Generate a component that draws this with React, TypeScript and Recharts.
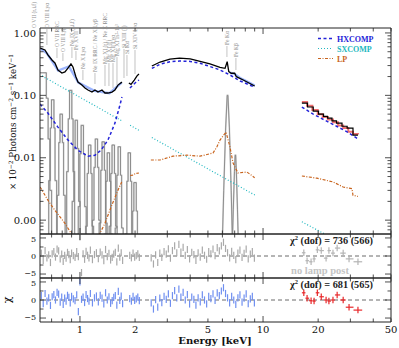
import React from 'react';
import { ComposedChart, Line, XAxis, YAxis, Scatter, ErrorBar, ReferenceLine } from 'recharts';

// ---------------- data ----------------
const X_DOMAIN: [number, number] = [0.605, 50];
const Y_DOMAIN: [number, number] = [0.0006, 1.2];
const R_DOMAIN: [number, number] = [-6.1, 6.1];

const energyTicks = [0.7, 0.8, 0.9, 1, 2, 3, 4, 5, 6, 7, 8, 9, 10, 20, 30, 40, 50];
const energyLabelled = [1, 2, 5, 10, 20, 50];
const energyTickLabels = ['1', '2', '5', '10', '20', '50'];
const energyMajor = [1, 10];

const fluxTicks = [0.0007, 0.0008, 0.0009, 0.001, 0.002, 0.003, 0.004, 0.005, 0.006, 0.007, 0.008, 0.009,
  0.01, 0.02, 0.03, 0.04, 0.05, 0.06, 0.07, 0.08, 0.09, 0.1, 0.2, 0.3, 0.4, 0.5, 0.6, 0.7, 0.8, 0.9, 1];
const fluxMajor = [0.001, 0.01, 0.1, 1];
const fluxMajorLabels = ['0.00', '0.01', '0.10', '1.00'];

const chiTicks = [-5, -2.5, 0, 2.5, 5];
const chiMajor = [-5, 0, 5];
const chiMajorLabels = ['\u22125', '0', '5'];

// data (black) in the upper panel
const dataSeg1 = [[0.605, 0.574], [0.644, 0.533], [0.668, 0.444], [0.703, 0.369], [0.73, 0.33], [0.758, 0.255], [0.797, 0.228],
  [0.828, 0.237], [0.86, 0.274], [0.893, 0.318], [0.916, 0.285], [0.951, 0.197], [0.975, 0.163], [1.025, 0.146], [1.065, 0.131],
  [1.106, 0.122], [1.163, 0.113], [1.208, 0.122], [1.254, 0.113], [1.319, 0.122], [1.37, 0.109], [1.422, 0.109], [1.496, 0.113],
  [1.553, 0.122], [1.613, 0.146], [1.696, 0.163]];
const dataSeg2 = [[1.85, 0.158], [1.9, 0.15], [1.98, 0.176], [2.05, 0.205], [2.1, 0.22]];
const dataSeg3 = [[2.47, 0.295], [2.74, 0.342], [3.1, 0.38], [3.5, 0.395], [4.0, 0.385], [4.53, 0.35], [5.13, 0.318], [5.82, 0.281],
  [6.2, 0.271], [6.37, 0.346], [6.5, 0.24], [6.7, 0.226], [7.0, 0.226], [7.15, 0.199], [7.8, 0.176], [9.0, 0.141]];
const dataSeg4 = [[16.3, 0.0752], [17.5, 0.065], [18.8, 0.056], [20.1, 0.05], [21.4, 0.046], [22.5, 0.0432], [23.8, 0.039],
  [25.2, 0.0359], [27.0, 0.032], [28.8, 0.0299], [31.0, 0.0231], [33.0, 0.0231]];
const redSeg4 = [[16.3, 0.078], [17.4, 0.068], [18.6, 0.058], [19.9, 0.05], [21.2, 0.045], [22.6, 0.041], [24.1, 0.037],
  [25.7, 0.033], [27.4, 0.03], [29.2, 0.026], [31.0, 0.024], [33.0, 0.0235]];
// light-blue data points under the model (upper panel)
const blueDataSeg1 = [[0.61, 0.56], [0.66, 0.47], [0.76, 0.25], [0.87, 0.29], [0.98, 0.16], [1.2, 0.118], [1.45, 0.108], [1.69, 0.16]];
const blueDataSeg3 = [[6.6, 0.232], [7.0, 0.22], [7.5, 0.19], [8.2, 0.166], [9.0, 0.143]];

// HXCOMP
const hxSeg1 = [[0.605, 0.0725], [0.668, 0.052], [0.758, 0.031], [0.86, 0.0192], [0.975, 0.0132], [1.106, 0.0106], [1.208, 0.011],
  [1.303, 0.0132], [1.422, 0.0192], [1.553, 0.0359], [1.654, 0.0699], [1.696, 0.094]];
const hxSeg2 = [[1.875, 0.131], [2.0, 0.158], [2.1, 0.176]];
const hxSeg3 = [[2.47, 0.27], [2.74, 0.315], [3.1, 0.345], [3.5, 0.355], [4.0, 0.35], [4.53, 0.326], [5.13, 0.29], [5.82, 0.255],
  [6.6, 0.212], [7.5, 0.17], [9.0, 0.135]];
const hxSeg4 = [[16.3, 0.065], [18.8, 0.05], [22.5, 0.038], [25.2, 0.032], [28.8, 0.026], [33.0, 0.02]];

// SXCOMP
const sxSeg1 = [[0.62, 0.205], [1.7, 0.0387]];
const sxSeg2 = [[1.88, 0.0331], [2.1, 0.0275]];
const sxSeg3 = [[2.47, 0.0211], [9.05, 0.00251]];
const sxSeg4 = [[16.3, 0.00094], [21.5, 0.00061]];

// LP
const lpSeg1 = [[0.605, 0.0034], [0.612, 0.00325], [0.668, 0.00209], [0.73, 0.00144], [0.828, 0.00089], [0.893, 0.00062],
  [0.951, 0.00045], [1.05, 0.0003], [1.15, 0.0003], [1.21, 0.00045], [1.286, 0.00062], [1.37, 0.00089], [1.477, 0.00161],
  [1.613, 0.00302], [1.69, 0.0041]];
const lpSeg2 = [[1.88, 0.0052], [1.97, 0.0053], [2.0, 0.0056], [2.1, 0.0057]];
const lpSeg3 = [[2.44, 0.0092], [2.74, 0.0092], [3.22, 0.0106], [3.84, 0.011], [4.53, 0.0106], [5.33, 0.0119], [5.6, 0.015],
  [5.82, 0.0192], [6.28, 0.0258], [6.6, 0.0148], [6.86, 0.0082], [7.29, 0.0057], [8.17, 0.0059], [9.0, 0.0048]];
const lpSeg4 = [[16.3, 0.0051], [19.7, 0.0047], [24.1, 0.0041], [27.4, 0.0034], [30.6, 0.0032], [31.0, 0.0025], [33.0, 0.0024]];

// emission line components (grey histograms)
const lineA = [[0.6, 0.23], [0.655, 0.09], [0.67, 0.02], [0.685, 0.003], [0.7, 0.0002], [0.71, 0.0002]];
const lineB = [[0.66, 0.0002], [0.675, 0.0043], [0.689, 0.03], [0.699, 0.085], [0.721, 0.03], [0.731, 0.0043], [0.746, 0.0002], [0.76, 0.0002]];
const lineC = [[0.735, 0.0002], [0.751, 0.0025], [0.766, 0.0175], [0.778, 0.05], [0.802, 0.0175], [0.814, 0.0025], [0.83, 0.0002], [0.845, 0.0002]];
const lineD = [[0.828, 0.0002], [0.846, 0.006], [0.863, 0.042], [0.877, 0.12], [0.903, 0.042], [0.917, 0.006], [0.935, 0.0002], [0.952, 0.0002]];
const lineE = [[0.888, 0.0002], [0.907, 0.002], [0.926, 0.014], [0.941, 0.04], [0.969, 0.014], [0.984, 0.002], [1.003, 0.0002], [1.022, 0.0002]];
const lineF = [[0.958, 0.0002], [0.979, 0.00165], [0.999, 0.0116], [1.015, 0.033], [1.045, 0.0116], [1.061, 0.00165], [1.082, 0.0002], [1.102, 0.0002]];
const lineG = [[1.051, 0.0002], [1.074, 0.0008], [1.096, 0.0056], [1.113, 0.016], [1.147, 0.0056], [1.164, 0.0008], [1.187, 0.0002], [1.209, 0.0002]];
const lineH = [[1.144, 0.0002], [1.169, 0.001], [1.193, 0.007], [1.212, 0.02], [1.248, 0.007], [1.267, 0.001], [1.292, 0.0002], [1.316, 0.0002]];
const lineI = [[1.246, 0.0002], [1.273, 0.0009], [1.3, 0.0063], [1.32, 0.018], [1.36, 0.0063], [1.38, 0.0009], [1.407, 0.0002], [1.434, 0.0002]];
const lineJ = [[1.33, 0.0002], [1.359, 0.0006], [1.387, 0.0042], [1.409, 0.012], [1.451, 0.0042], [1.473, 0.0006], [1.502, 0.0002], [1.53, 0.0002]];
const lineK = [[1.414, 0.0002], [1.444, 0.0008], [1.474, 0.0056], [1.497, 0.016], [1.543, 0.0056], [1.566, 0.0008], [1.596, 0.0002], [1.626, 0.0002]];
const lineL = [[1.525, 0.0002], [1.558, 0.00075], [1.591, 0.00525], [1.615, 0.015], [1.665, 0.00525], [1.689, 0.00075], [1.722, 0.0002], [1.755, 0.0002]];
const lineM = [[1.73, 0.0002], [1.767, 0.0006], [1.804, 0.0042], [1.832, 0.012], [1.888, 0.0042], [1.916, 0.0006], [1.953, 0.0002], [1.99, 0.0002]];
const lineN = [[1.86, 0.0002], [1.9, 0.0002], [1.94, 0.0014], [1.97, 0.004], [2.03, 0.0014], [2.06, 0.0002], [2.1, 0.0002], [2.14, 0.0002]];
const lineFeKa = [[5.95, 0.0002], [6.1, 0.003], [6.25, 0.03], [6.37, 0.1], [6.43, 0.1], [6.55, 0.03], [6.7, 0.003], [6.85, 0.0002]];
const lineFeKb = [[6.75, 0.0002], [6.88, 0.0015], [6.98, 0.006], [7.04, 0.011], [7.09, 0.011], [7.15, 0.006], [7.25, 0.0015], [7.38, 0.0002]];

// residuals
const resE1 = [0.615, 0.63, 0.645, 0.66, 0.675, 0.69, 0.705, 0.72, 0.735, 0.75, 0.765, 0.78, 0.795, 0.81, 0.825, 0.84, 0.855, 0.87,
  0.885, 0.9, 0.92, 0.94, 0.96, 0.98, 1.0, 1.02, 1.04, 1.06, 1.08, 1.1, 1.12, 1.14, 1.17, 1.2, 1.23, 1.26, 1.29, 1.32, 1.35, 1.38,
  1.41, 1.44, 1.47, 1.5, 1.53, 1.56, 1.59, 1.62, 1.65, 1.68, 1.71];
const resGray1 = [0.8, -1.2, 1.5, -0.5, 0.3, -1.8, 0.6, 1.2, -0.3, 1.9, 1.4, -0.8, 0.5, -1.5, 0.2, -0.6, 1.0, 0.4, -1.0, 0.8, 0.1,
  -0.4, 1.2, -0.2, 5.3, -4.6, 0.6, -0.9, 1.3, 0.2, -0.5, 1.6, -1.0, 0.4, 0.9, -0.7, 1.1, 0.3, -1.3, 1.8, -0.2, 0.7, -1.1, -0.4, 0.5,
  1.0, -1.6, 2.2, -0.3, 0.9, -1.2];
const resBlue1 = [1.2, -1.0, 1.8, -0.3, 0.6, -1.5, 0.9, 1.5, 0.0, 2.1, 1.6, -0.6, 0.8, -1.2, 0.5, -0.3, 1.3, 0.7, -0.8, 1.0, 0.3,
  -0.2, 1.4, -3.2, 5.0, 0.2, 0.8, -0.7, 1.5, 0.4, -0.3, 1.8, -0.8, 0.6, 1.1, -0.5, 1.3, 0.5, -1.1, 2.0, 0.0, 0.9, -0.9, -0.2, 0.7,
  1.2, -1.4, 2.4, -0.1, 1.1, -1.0];
const resE2 = [1.87, 1.91, 1.95, 1.99, 2.03, 2.07, 2.11];
const resGray2 = [0.2, -0.5, 0.8, -0.3, 0.1, 0.6, -0.4];
const resBlue2 = [0.4, -0.3, 1.0, -0.1, 0.3, 0.8, -0.2];
const resE3 = [2.45, 2.52, 2.59, 2.66, 2.73, 2.8, 2.88, 2.96, 3.04, 3.12, 3.2, 3.29, 3.38, 3.47, 3.56, 3.66, 3.76, 3.86, 3.97, 4.08,
  4.19, 4.3, 4.42, 4.54, 4.66, 4.79, 4.92, 5.05, 5.19, 5.33, 5.47, 5.62, 5.77, 5.92, 6.08, 6.24, 6.4, 6.57, 6.74, 6.92, 7.1, 7.29,
  7.48, 7.68, 7.88, 8.09, 8.3, 8.52, 8.74, 8.97];
const resGray3 = [-0.5, -2.2, 0.3, -1.8, 0.8, -0.4, 1.2, 0.5, 2.0, -0.6, 1.5, 2.8, 0.9, 3.2, 1.1, 2.4, 0.2, 1.8, -0.8, 1.0, 0.4, -1.2,
  0.9, -0.3, 1.6, 0.2, -0.9, 1.2, 0.6, 1.9, 0.1, 2.3, 1.4, 2.8, 3.8, 2.1, 0.9, -0.5, 1.3, 0.2, -1.0, 0.8, 1.6, -0.4, 0.7, 1.9, -0.8,
  0.5, 1.2, -0.6];
const resBlue3 = [-0.8, -2.5, 0.1, -2.0, 0.5, -0.7, 1.0, 0.2, 1.7, -0.9, 1.2, 2.6, 0.6, 3.0, 0.8, 2.1, 0.0, 1.5, -1.1, 0.8, 0.2, -1.4,
  0.6, -0.5, 1.4, 0.0, -1.1, 1.0, 0.4, 1.7, -0.1, 2.0, 1.2, 2.5, 3.4, 1.8, 0.6, -0.8, 1.0, 0.0, -1.2, 0.6, 1.4, -0.6, 0.5, 1.7, -1.0,
  0.3, 1.0, -0.8];
const resErr = 1.0;
const hiE = [16.7, 17.4, 18.3, 19.0, 19.8, 20.8, 22.1, 22.9, 24.1, 25.4, 27.4, 29.5, 33.0];
const hiLo = [16.3, 17.05, 17.85, 18.65, 19.4, 20.3, 21.5, 22.5, 23.5, 24.7, 26.4, 28.3, 31.2];
const hiHi = [17.05, 17.85, 18.65, 19.4, 20.3, 21.5, 22.5, 23.5, 24.7, 26.4, 28.3, 31.2, 34.8];
const hiGray = [0.9, -1.3, -1.6, -0.8, 1.7, 1.5, -0.6, 1.5, 0.8, 2.2, 0.8, -0.8, -1.6];
const hiRed = [2.0, 0.5, -0.2, -0.3, 2.0, 0.9, 0.0, -0.3, 0.0, 1.4, 0.0, -2.0, -2.8];
const hiErr = 0.9;

// line identifications
const lineNames = ['O VII (r,i,f)', 'O VIII Ly\u03b1', 'O VII RRC', 'O VIII Ly\u03b2', 'Ne IX (r,i,f)', 'Fe XVII', 'Ne X Ly\u03b1',
  'Ne IX RRC / Ne X Ly\u03b2', 'Mg XI (r) / Ne X RRC', 'Mg XI (f)', 'Mg XII Ly\u03b1', 'Mg XI 1s\u00b2-1s\u00b3', 'Si XIII (f)', 'Si K\u03b1',
  'Si XIV Ly\u03b1', 'Fe K\u03b1', 'Fe K\u03b2'];
const lineEnergies = [0.561, 0.66, 0.749, 0.807, 0.904, 0.951, 1.038, 1.208, 1.37, 1.44, 1.515, 1.593, 1.74, 1.806, 1.998, 6.35, 7.11];

// ---------------- layout ----------------
const PL = 40, PR = 391;
const FONT = 'DejaVu Serif';
const lineLabelLayout = [[28, 28], [28, 45], [47, 58], [52, 61], [46, 58], [50, 60], [69, 80], [72, 84], [64, 86], [62, 86],
  [62, 88], [56, 85], [48, 78], [54, 76], [49, 74], [45, 57], [57, 70]];

const pts = (a: number[][]) => a.map(([e, v]) => ({ e, v }));
const resTable = (E: number[], R: number[], err: number) => E.map((e, i) => ({ e, r: R[i], ey: err }));
const crossTable = (R: number[]) => hiE.map((e, i) => ({ e, r: R[i], ey: hiErr, ex: [e - hiLo[i], hiHi[i] - e] }));
const ex = (E: number) => PL + (PR - PL) * (Math.log10(E) - Math.log10(X_DOMAIN[0])) / (Math.log10(X_DOMAIN[1]) - Math.log10(X_DOMAIN[0]));

const near = (a: number, b: number) => Math.abs(a - b) <= Math.abs(b) * 1e-6 + 1e-12;
const findIdx = (arr: number[], v: number) => arr.findIndex((a) => near(v, a));

function XTick(props: any) {
  const { x, y, payload, side, showLabel } = props;
  const v = payload.value;
  const len = findIdx(energyMajor, v) >= 0 ? 6 : 3.5;
  const dir = side === 'bottom' ? -1 : 1;
  const li = findIdx(energyLabelled, v);
  return (
    <g>
      <line x1={x} y1={y} x2={x} y2={y + dir * len} stroke="#222" strokeWidth={0.8} />
      {showLabel && li >= 0 && (
        <text x={x} y={y + 11} textAnchor="middle" fontFamily={FONT} fontSize={10} fill="#111">{energyTickLabels[li]}</text>
      )}
    </g>
  );
}

function YTick(props: any) {
  const { x, y, payload, side, kind } = props;
  const v = payload.value;
  const majors = kind === 'flux' ? fluxMajor : chiMajor;
  const labels = kind === 'flux' ? fluxMajorLabels : chiMajorLabels;
  const mi = findIdx(majors, v);
  const len = mi >= 0 ? 6 : 3.5;
  const dir = side === 'left' ? 1 : -1;
  const fs = kind === 'flux' ? 10 : 8;
  // keep the stacked residual labels (−5 above, 5 below) from touching
  const nudge = kind === 'chi' ? (v > 0 ? 1 : v < 0 ? -1 : 0) : 0;
  return (
    <g>
      <line x1={x} y1={y} x2={x + dir * len} y2={y} stroke="#222" strokeWidth={0.8} />
      {side === 'left' && mi >= 0 && (
        <text x={x - 4} y={y + fs * 0.36 + nudge} textAnchor="end" fontFamily={FONT} fontSize={fs} fill="#111">{labels[mi]}</text>
      )}
    </g>
  );
}

// axes are 1px thick so that Recharts draws them; margins compensate
function energyAxes(showLabels: boolean) {
  const common = {
    dataKey: 'e', type: 'number' as const, scale: 'log' as const, domain: X_DOMAIN, allowDataOverflow: true,
    ticks: energyTicks, interval: 0 as const, height: 1, tickSize: 0, tickMargin: 0, tickLine: false,
    axisLine: { stroke: '#222', strokeWidth: 1 },
  };
  return [
    <XAxis key="xb" xAxisId="b" {...common} tick={(p: any) => <XTick {...p} side="bottom" showLabel={showLabels} />} />,
    <XAxis key="xt" xAxisId="t" orientation="top" {...common} tick={(p: any) => <XTick {...p} side="top" showLabel={false} />} />,
  ];
}

function valueAxes(kind: 'flux' | 'chi') {
  const common = {
    type: 'number' as const,
    scale: (kind === 'flux' ? 'log' : 'linear') as any,
    domain: kind === 'flux' ? Y_DOMAIN : R_DOMAIN,
    ticks: kind === 'flux' ? fluxTicks : chiTicks,
    allowDataOverflow: true, interval: 0 as const, width: 1, tickSize: 0, tickMargin: 0, tickLine: false,
    axisLine: { stroke: '#222', strokeWidth: 1 },
  };
  return [
    <YAxis key="yl" yAxisId="l" {...common} tick={(p: any) => <YTick {...p} side="left" kind={kind} />} />,
    <YAxis key="yr" yAxisId="r" orientation="right" {...common} tick={(p: any) => <YTick {...p} side="right" kind={kind} />} />,
  ];
}

const BLUE = '#2323d8';
const CYAN = '#22b8c0';
const ORANGE = '#c8641e';
const GRAY_RES = '#a9a9a9';
const BLUE_RES = '#6f8ff0';
const RED = '#e8282a';

type S = { data: number[][]; color: string; width: number; dash?: string; curve?: any };
const greyLines = [lineA, lineB, lineC, lineD, lineE, lineF, lineG, lineH, lineI, lineJ, lineK, lineL, lineM, lineN];
const series: S[] = [
  ...greyLines.map((d) => ({ data: d, color: '#d2d2d2', width: 1.6, curve: 'stepAfter' })),
  ...greyLines.map((d) => ({ data: d, color: '#7c7c7c', width: 0.8, curve: 'stepAfter' })),
  { data: lineFeKa, color: '#d2d2d2', width: 1.6 },
  { data: lineFeKb, color: '#d2d2d2', width: 1.6 },
  { data: lineFeKa, color: '#7c7c7c', width: 0.8 },
  { data: lineFeKb, color: '#7c7c7c', width: 0.8 },
  { data: sxSeg1, color: CYAN, width: 1.2, dash: '1 2' },
  { data: sxSeg2, color: CYAN, width: 1.2, dash: '1 2' },
  { data: sxSeg3, color: CYAN, width: 1.2, dash: '1 2' },
  { data: sxSeg4, color: CYAN, width: 1.2, dash: '1 2' },
  { data: lpSeg1, color: ORANGE, width: 1.2, dash: '3 1.5 1 1.5' },
  { data: lpSeg2, color: ORANGE, width: 1.2, dash: '3 1.5 1 1.5' },
  { data: lpSeg3, color: ORANGE, width: 1.2, dash: '3 1.5 1 1.5' },
  { data: lpSeg4, color: ORANGE, width: 1.2, dash: '3 1.5 1 1.5' },
  { data: redSeg4, color: '#f07070', width: 2, curve: 'stepAfter' },
  { data: blueDataSeg1, color: '#9db6ff', width: 2.4 },
  { data: blueDataSeg3, color: '#9db6ff', width: 2.4 },
  { data: hxSeg1, color: BLUE, width: 1.5, dash: '3 2.5' },
  { data: hxSeg2, color: BLUE, width: 1.5, dash: '3 2.5' },
  { data: hxSeg3, color: BLUE, width: 1.5, dash: '3 2.5' },
  { data: hxSeg4, color: BLUE, width: 1.5, dash: '3 2.5' },
  { data: dataSeg1, color: '#000', width: 1.3 },
  { data: dataSeg2, color: '#000', width: 1.3 },
  { data: dataSeg3, color: '#000', width: 1.3 },
  { data: dataSeg4, color: '#000', width: 1.2, curve: 'stepAfter' },
];

const NoShape = () => <g />;

// plotTop: page y of the panel's top edge; plotH: panel height; below: room for tick labels
function ResidualPanel(props: { plotTop: number; plotH: number; below: number; showLabels: boolean; lo: any[][]; cross: any[]; color: string; crossColor: string }) {
  const { plotTop, plotH, below, showLabels, lo, cross, color, crossColor } = props;
  const h = plotH + 2 + below;
  return (
    <div style={{ position: 'absolute', left: 0, top: plotTop - 1, width: 399, height: h }}>
      <ComposedChart width={399} height={h} margin={{ top: 0, right: 399 - PR - 1, bottom: below, left: PL - 1 }}>
        {energyAxes(showLabels)}
        {valueAxes('chi')}
        <ReferenceLine xAxisId="b" yAxisId="l" y={0} stroke="#444" strokeWidth={0.8} strokeDasharray="4 3" />
        {lo.map((d, i) => (
          <Scatter key={'s' + i} xAxisId="b" yAxisId="l" data={d} dataKey="r" shape={NoShape} isAnimationActive={false}>
            <ErrorBar dataKey="ey" direction="y" width={0} stroke={color} strokeWidth={1.2} />
          </Scatter>
        ))}
        <Scatter xAxisId="b" yAxisId="l" data={cross} dataKey="r" shape={NoShape} isAnimationActive={false}>
          <ErrorBar dataKey="ey" direction="y" width={0} stroke={crossColor} strokeWidth={1.2} />
          <ErrorBar dataKey="ex" direction="x" width={0} stroke={crossColor} strokeWidth={1.2} />
        </Scatter>
      </ComposedChart>
    </div>
  );
}

export default function App() {
  return (
    <div style={{ position: 'absolute', left: 0, top: 0, width: 399, height: 348, background: '#fff', overflow: 'hidden' }}>
      <div style={{ position: 'absolute', left: 0, top: 0, width: 399, height: 236 }}>
        <ComposedChart width={399} height={236} margin={{ top: 27, right: 399 - PR - 1, bottom: 1, left: PL - 1 }}>
          {energyAxes(false)}
          {valueAxes('flux')}
          {series.map((s, i) => (
            <Line key={'l' + i} xAxisId="b" yAxisId="l" data={pts(s.data)} dataKey="v" type={s.curve || 'linear'}
              stroke={s.color} strokeWidth={s.width} strokeDasharray={s.dash} dot={false} activeDot={false}
              isAnimationActive={false} />
          ))}
        </ComposedChart>
      </div>
      <ResidualPanel plotTop={234} plotH={44} below={0} showLabels={false}
        lo={[resTable(resE1, resGray1, resErr), resTable(resE2, resGray2, resErr), resTable(resE3, resGray3, resErr)]}
        cross={crossTable(hiGray)} color={GRAY_RES} crossColor="#b4b4b4" />
      <ResidualPanel plotTop={278} plotH={44} below={26} showLabels={true}
        lo={[resTable(resE1, resBlue1, resErr), resTable(resE2, resBlue2, resErr), resTable(resE3, resBlue3, resErr)]}
        cross={crossTable(hiRed)} color={BLUE_RES} crossColor={RED} />
      <svg width={399} height={348} style={{ position: 'absolute', left: 0, top: 0, pointerEvents: 'none' }}>
        {lineNames.map((n, i) => {
          const x = ex(lineEnergies[i]);
          const [bot, end] = lineLabelLayout[i];
          return (
            <g key={'id' + i}>
              <text transform={`translate(${x + 2},${bot}) rotate(-90)`} fontFamily="Liberation Serif" fontSize={5.6} fill="#8c8c8c">{n}</text>
              {end > bot && <line x1={x} x2={x} y1={bot + 1} y2={end} stroke="#9a9a9a" strokeWidth={0.6} />}
            </g>
          );
        })}
        <line x1={318} x2={333} y1={38.5} y2={38.5} stroke={BLUE} strokeWidth={1.5} strokeDasharray="3 2.5" />
        <text x={337} y={41.5} fontFamily="Liberation Serif" fontWeight="bold" fontSize={8} fill={BLUE}>HXCOMP</text>
        <line x1={318} x2={333} y1={48.5} y2={48.5} stroke={CYAN} strokeWidth={1.2} strokeDasharray="1 2" />
        <text x={337} y={51.5} fontFamily="Liberation Serif" fontWeight="bold" fontSize={8} fill={CYAN}>SXCOMP</text>
        <line x1={318} x2={333} y1={58.5} y2={58.5} stroke={ORANGE} strokeWidth={1.2} strokeDasharray="3 1.5 1 1.5" />
        <text x={337} y={61.5} fontFamily="Liberation Serif" fontWeight="bold" fontSize={8} fill={ORANGE}>LP</text>
        <text transform="translate(16,122) rotate(-90)" textAnchor="middle" fontFamily={FONT} fontSize={8.6} fill="#111">
          {'\u00d7 10'}<tspan dy={-3} fontSize={6}>{'\u22122'}</tspan><tspan dy={3}>{' Photons cm'}</tspan>
          <tspan dy={-3} fontSize={6}>{'\u22122'}</tspan><tspan dy={3}>{' s'}</tspan>
          <tspan dy={-3} fontSize={6}>{'\u22121'}</tspan><tspan dy={3}>{' keV'}</tspan>
          <tspan dy={-3} fontSize={6}>{'\u22121'}</tspan>
        </text>
        <text transform="translate(11,300) rotate(-90)" textAnchor="middle" fontFamily={FONT} fontSize={11} fill="#111">{'\u03c7'}</text>
        <text x={215} y={344} textAnchor="middle" fontFamily={FONT} fontWeight="bold" fontSize={10} fill="#111">Energy [keV]</text>
        <text x={373} y={243.5} textAnchor="end" fontFamily="Liberation Serif" fontWeight="bold" fontSize={10.3} fill="#222">
          {'\u03c7'}<tspan dy={-3.5} fontSize={6.5}>2</tspan><tspan dy={3.5}>{' (dof) = 736 (566)'}</tspan>
        </text>
        <text x={320} y={274} textAnchor="middle" fontFamily="Liberation Serif" fontWeight="bold" fontSize={10.5} fill="#c4c4c4">no lamp post</text>
        <text x={373} y={287.5} textAnchor="end" fontFamily="Liberation Serif" fontWeight="bold" fontSize={10.3} fill="#222">
          {'\u03c7'}<tspan dy={-3.5} fontSize={6.5}>2</tspan><tspan dy={3.5}>{' (dof) = 681 (565)'}</tspan>
        </text>
      </svg>
    </div>
  );
}
